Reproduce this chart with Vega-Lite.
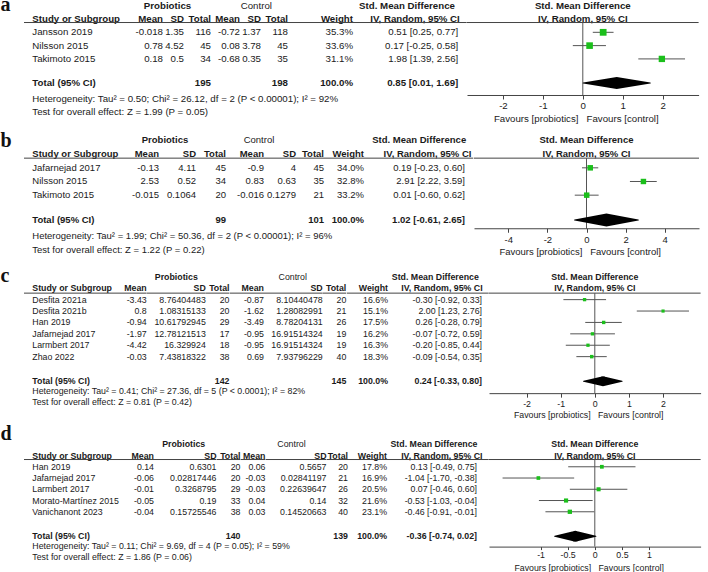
{
"$schema":"https://vega.github.io/schema/vega-lite/v6.json",
"padding":0,
"background":"white",
"datasets":{
"one":[{}],
"a_st":[
{"study":"Jansson 2019","pMean":-0.018,"pSD":1.35,"pN":116,"cMean":-0.72,"cSD":1.37,"cN":118,"w":0.353,"est":0.51,"lo":0.25,"hi":0.77,"ci":"0.51 [0.25, 0.77]"},
{"study":"Nilsson 2015","pMean":0.78,"pSD":4.52,"pN":45,"cMean":0.08,"cSD":3.78,"cN":45,"w":0.336,"est":0.17,"lo":-0.25,"hi":0.58,"ci":"0.17 [-0.25, 0.58]"},
{"study":"Takimoto 2015","pMean":0.18,"pSD":0.5,"pN":34,"cMean":-0.68,"cSD":0.35,"cN":35,"w":0.311,"est":1.98,"lo":1.39,"hi":2.56,"ci":"1.98 [1.39, 2.56]"}],
"a_tot":[{"study":"Total (95% CI)","pN":195,"cN":198,"w":1,"est":0.85,"lo":0.01,"hi":1.69,"ci":"0.85 [0.01, 1.69]","het":"Heterogeneity: Tau² = 0.50; Chi² = 26.12, df = 2 (P < 0.00001); I² = 92%","z":"Test for overall effect: Z = 1.99 (P = 0.05)"}],
"b_st":[
{"study":"Jafarnejad 2017","pMean":-0.13,"pSD":4.11,"pN":45,"cMean":-0.9,"cSD":4,"cN":45,"w":0.34,"est":0.19,"lo":-0.23,"hi":0.6,"ci":"0.19 [-0.23, 0.60]"},
{"study":"Nilsson 2015","pMean":2.53,"pSD":0.52,"pN":34,"cMean":0.83,"cSD":0.63,"cN":35,"w":0.328,"est":2.91,"lo":2.22,"hi":3.59,"ci":"2.91 [2.22, 3.59]"},
{"study":"Takimoto 2015","pMean":-0.015,"pSD":0.1064,"pN":20,"cMean":-0.016,"cSD":0.1279,"cN":21,"w":0.332,"est":0.01,"lo":-0.6,"hi":0.62,"ci":"0.01 [-0.60, 0.62]"}],
"b_tot":[{"study":"Total (95% CI)","pN":99,"cN":101,"w":1,"est":1.02,"lo":-0.61,"hi":2.65,"ci":"1.02 [-0.61, 2.65]","het":"Heterogeneity: Tau² = 1.99; Chi² = 50.36, df = 2 (P < 0.00001); I² = 96%","z":"Test for overall effect: Z = 1.22 (P = 0.22)"}],
"c_st":[
{"study":"Desfita 2021a","pMean":-3.43,"pSD":8.76404483,"pN":20,"cMean":-0.87,"cSD":8.10440478,"cN":20,"w":0.166,"est":-0.3,"lo":-0.92,"hi":0.33,"ci":"-0.30 [-0.92, 0.33]"},
{"study":"Desfita 2021b","pMean":0.8,"pSD":1.08315133,"pN":20,"cMean":-1.62,"cSD":1.28082991,"cN":21,"w":0.151,"est":2.0,"lo":1.23,"hi":2.76,"ci":"2.00 [1.23, 2.76]"},
{"study":"Han 2019","pMean":-0.94,"pSD":10.61792945,"pN":29,"cMean":-3.49,"cSD":8.78204131,"cN":26,"w":0.175,"est":0.26,"lo":-0.28,"hi":0.79,"ci":"0.26 [-0.28, 0.79]"},
{"study":"Jafarnejad 2017","pMean":-1.97,"pSD":12.78121513,"pN":17,"cMean":-0.95,"cSD":16.91514324,"cN":19,"w":0.162,"est":-0.07,"lo":-0.72,"hi":0.59,"ci":"-0.07 [-0.72, 0.59]"},
{"study":"Larmbert 2017","pMean":-4.42,"pSD":16.329924,"pN":18,"cMean":-0.95,"cSD":16.91514324,"cN":19,"w":0.163,"est":-0.2,"lo":-0.85,"hi":0.44,"ci":"-0.20 [-0.85, 0.44]"},
{"study":"Zhao 2022","pMean":-0.03,"pSD":7.43818322,"pN":38,"cMean":0.69,"cSD":7.93796229,"cN":40,"w":0.183,"est":-0.09,"lo":-0.54,"hi":0.35,"ci":"-0.09 [-0.54, 0.35]"}],
"c_tot":[{"study":"Total (95% CI)","pN":142,"cN":145,"w":1,"est":0.24,"lo":-0.33,"hi":0.8,"ci":"0.24 [-0.33, 0.80]","het":"Heterogeneity: Tau² = 0.41; Chi² = 27.36, df = 5 (P < 0.0001); I² = 82%","z":"Test for overall effect: Z = 0.81 (P = 0.42)"}],
"d_st":[
{"study":"Han 2019","pMean":0.14,"pSD":0.6301,"pN":20,"cMean":0.06,"cSD":0.5657,"cN":20,"w":0.178,"est":0.13,"lo":-0.49,"hi":0.75,"ci":"0.13 [-0.49, 0.75]"},
{"study":"Jafarnejad 2017","pMean":-0.06,"pSD":0.02817446,"pN":20,"cMean":-0.03,"cSD":0.02841197,"cN":21,"w":0.169,"est":-1.04,"lo":-1.7,"hi":-0.38,"ci":"-1.04 [-1.70, -0.38]"},
{"study":"Larmbert 2017","pMean":-0.01,"pSD":0.3268795,"pN":29,"cMean":-0.03,"cSD":0.22639647,"cN":26,"w":0.205,"est":0.07,"lo":-0.46,"hi":0.6,"ci":"0.07 [-0.46, 0.60]"},
{"study":"Morato-Martínez 2015","pMean":-0.05,"pSD":0.19,"pN":33,"cMean":0.04,"cSD":0.14,"cN":32,"w":0.216,"est":-0.53,"lo":-1.03,"hi":-0.04,"ci":"-0.53 [-1.03, -0.04]"},
{"study":"Vanichanont 2023","pMean":-0.04,"pSD":0.15725546,"pN":38,"cMean":0.03,"cSD":0.14520663,"cN":40,"w":0.231,"est":-0.46,"lo":-0.91,"hi":-0.01,"ci":"-0.46 [-0.91, -0.01]"}],
"d_tot":[{"study":"Total (95% CI)","pN":140,"cN":139,"w":1,"est":-0.36,"lo":-0.74,"hi":0.02,"ci":"-0.36 [-0.74, 0.02]","het":"Heterogeneity: Tau² = 0.11; Chi² = 9.69, df = 4 (P = 0.05); I² = 59%","z":"Test for overall effect: Z = 1.86 (P = 0.06)"}]
},
"spacing":2.8,
"resolve":{"scale":{"size":"independent"}},
"vconcat":[
{"hconcat":[
{"width":24,"height":{"step":13.3},"data":{"name":"one"},"mark":{"type":"text","align":"left","dx":-11.5,"dy":4.8,"style":"letter","clip":true},"encoding":{"y":{"datum":"top","type":"nominal","axis":null,"scale":{"type":"point","padding":0.43,"domain":["top","head","Jansson 2019","Nilsson 2015","Takimoto 2015","gap","Total (95% CI)","het","z"]}},"text":{"value":"a"}}},
{"width":100,"height":{"step":13.3},"layer":[
{"data":{"name":"one"},"mark":{"type":"text","align":"left","dx":8.3,"style":["fa","bold"]},"encoding":{"x":{"value":0},"y":{"datum":"head","type":"nominal","axis":null,"scale":{"type":"point","padding":0.43,"domain":["top","head","Jansson 2019","Nilsson 2015","Takimoto 2015","gap","Total (95% CI)","het","z"]}},"text":{"value":"Study or Subgroup"}}},
{"data":{"name":"one"},"mark":{"type":"rule","yOffset":3.5,"style":"hl"},"encoding":{"y":{"datum":"head","type":"nominal","axis":null}}},
{"data":{"name":"a_st"},"mark":{"type":"text","align":"left","dx":8.3,"style":"fa"},"encoding":{"x":{"value":0},"y":{"field":"study","type":"nominal","axis":null},"text":{"field":"study","type":"nominal"}}},
{"data":{"name":"a_tot"},"mark":{"type":"text","align":"left","dx":8.3,"dy":-2.5,"style":["fa","bold"]},"encoding":{"x":{"value":0},"y":{"field":"study","type":"nominal","axis":null},"text":{"field":"study","type":"nominal"}}},
{"data":{"name":"a_tot"},"mark":{"type":"text","align":"left","dx":8.3,"style":"fa"},"encoding":{"x":{"value":0},"y":{"datum":"het","type":"nominal","axis":null},"text":{"field":"het","type":"nominal"}}},
{"data":{"name":"a_tot"},"mark":{"type":"text","align":"left","dx":8.3,"style":"fa"},"encoding":{"x":{"value":0},"y":{"datum":"z","type":"nominal","axis":null},"text":{"field":"z","type":"nominal"}}}]},
{"width":39,"height":{"step":13.3},"layer":[
{"data":{"name":"one"},"mark":{"type":"text","align":"right","style":["fa","bold"]},"encoding":{"x":{"value":"width"},"y":{"datum":"head","type":"nominal","axis":null,"scale":{"type":"point","padding":0.43,"domain":["top","head","Jansson 2019","Nilsson 2015","Takimoto 2015","gap","Total (95% CI)","het","z"]}},"text":{"value":"Mean"}}},
{"data":{"name":"one"},"mark":{"type":"rule","yOffset":3.5,"style":"hl"},"encoding":{"y":{"datum":"head","type":"nominal","axis":null}}},
{"data":{"name":"a_st"},"mark":{"type":"text","align":"right","style":"fa"},"encoding":{"x":{"value":"width"},"y":{"field":"study","type":"nominal","axis":null},"text":{"field":"pMean","type":"nominal"}}}]},
{"width":21,"height":{"step":13.3},"layer":[
{"data":{"name":"one"},"mark":{"type":"text","align":"right","style":["fa","bold"]},"encoding":{"x":{"value":"width"},"y":{"datum":"head","type":"nominal","axis":null,"scale":{"type":"point","padding":0.43,"domain":["top","head","Jansson 2019","Nilsson 2015","Takimoto 2015","gap","Total (95% CI)","het","z"]}},"text":{"value":"SD"}}},
{"data":{"name":"one"},"mark":{"type":"text","align":"center","dx":-16.5,"style":["fa","bold"]},"encoding":{"x":{"value":"width"},"y":{"datum":"top","type":"nominal","axis":null},"text":{"value":"Probiotics"}}},
{"data":{"name":"one"},"mark":{"type":"rule","yOffset":3.5,"style":"hl"},"encoding":{"y":{"datum":"head","type":"nominal","axis":null}}},
{"data":{"name":"a_st"},"mark":{"type":"text","align":"right","style":"fa"},"encoding":{"x":{"value":"width"},"y":{"field":"study","type":"nominal","axis":null},"text":{"field":"pSD","type":"nominal"}}}]},
{"width":27,"height":{"step":13.3},"layer":[
{"data":{"name":"one"},"mark":{"type":"text","align":"right","style":["fa","bold"]},"encoding":{"x":{"value":"width"},"y":{"datum":"head","type":"nominal","axis":null,"scale":{"type":"point","padding":0.43,"domain":["top","head","Jansson 2019","Nilsson 2015","Takimoto 2015","gap","Total (95% CI)","het","z"]}},"text":{"value":"Total"}}},
{"data":{"name":"one"},"mark":{"type":"rule","yOffset":3.5,"style":"hl"},"encoding":{"y":{"datum":"head","type":"nominal","axis":null}}},
{"data":{"name":"a_st"},"mark":{"type":"text","align":"right","style":"fa"},"encoding":{"x":{"value":"width"},"y":{"field":"study","type":"nominal","axis":null},"text":{"field":"pN","type":"nominal"}}},
{"data":{"name":"a_tot"},"mark":{"type":"text","align":"right","dy":-2.5,"style":["fa","bold"]},"encoding":{"x":{"value":"width"},"y":{"field":"study","type":"nominal","axis":null},"text":{"field":"pN","type":"nominal"}}}]},
{"width":29,"height":{"step":13.3},"layer":[
{"data":{"name":"one"},"mark":{"type":"text","align":"right","style":["fa","bold"]},"encoding":{"x":{"value":"width"},"y":{"datum":"head","type":"nominal","axis":null,"scale":{"type":"point","padding":0.43,"domain":["top","head","Jansson 2019","Nilsson 2015","Takimoto 2015","gap","Total (95% CI)","het","z"]}},"text":{"value":"Mean"}}},
{"data":{"name":"one"},"mark":{"type":"rule","yOffset":3.5,"style":"hl"},"encoding":{"y":{"datum":"head","type":"nominal","axis":null}}},
{"data":{"name":"a_st"},"mark":{"type":"text","align":"right","style":"fa"},"encoding":{"x":{"value":"width"},"y":{"field":"study","type":"nominal","axis":null},"text":{"field":"cMean","type":"nominal"}}}]},
{"width":21,"height":{"step":13.3},"layer":[
{"data":{"name":"one"},"mark":{"type":"text","align":"right","style":["fa","bold"]},"encoding":{"x":{"value":"width"},"y":{"datum":"head","type":"nominal","axis":null,"scale":{"type":"point","padding":0.43,"domain":["top","head","Jansson 2019","Nilsson 2015","Takimoto 2015","gap","Total (95% CI)","het","z"]}},"text":{"value":"SD"}}},
{"data":{"name":"one"},"mark":{"type":"text","align":"center","dx":-4.7,"style":"fa"},"encoding":{"x":{"value":"width"},"y":{"datum":"top","type":"nominal","axis":null},"text":{"value":"Control"}}},
{"data":{"name":"one"},"mark":{"type":"rule","yOffset":3.5,"style":"hl"},"encoding":{"y":{"datum":"head","type":"nominal","axis":null}}},
{"data":{"name":"a_st"},"mark":{"type":"text","align":"right","style":"fa"},"encoding":{"x":{"value":"width"},"y":{"field":"study","type":"nominal","axis":null},"text":{"field":"cSD","type":"nominal"}}}]},
{"width":27,"height":{"step":13.3},"layer":[
{"data":{"name":"one"},"mark":{"type":"text","align":"right","style":["fa","bold"]},"encoding":{"x":{"value":"width"},"y":{"datum":"head","type":"nominal","axis":null,"scale":{"type":"point","padding":0.43,"domain":["top","head","Jansson 2019","Nilsson 2015","Takimoto 2015","gap","Total (95% CI)","het","z"]}},"text":{"value":"Total"}}},
{"data":{"name":"one"},"mark":{"type":"rule","yOffset":3.5,"style":"hl"},"encoding":{"y":{"datum":"head","type":"nominal","axis":null}}},
{"data":{"name":"a_st"},"mark":{"type":"text","align":"right","style":"fa"},"encoding":{"x":{"value":"width"},"y":{"field":"study","type":"nominal","axis":null},"text":{"field":"cN","type":"nominal"}}},
{"data":{"name":"a_tot"},"mark":{"type":"text","align":"right","dy":-2.5,"style":["fa","bold"]},"encoding":{"x":{"value":"width"},"y":{"field":"study","type":"nominal","axis":null},"text":{"field":"cN","type":"nominal"}}}]},
{"width":65,"height":{"step":13.3},"layer":[
{"data":{"name":"one"},"mark":{"type":"text","align":"right","style":["fa","bold"]},"encoding":{"x":{"value":"width"},"y":{"datum":"head","type":"nominal","axis":null,"scale":{"type":"point","padding":0.43,"domain":["top","head","Jansson 2019","Nilsson 2015","Takimoto 2015","gap","Total (95% CI)","het","z"]}},"text":{"value":"Weight"}}},
{"data":{"name":"one"},"mark":{"type":"rule","yOffset":3.5,"style":"hl"},"encoding":{"y":{"datum":"head","type":"nominal","axis":null}}},
{"data":{"name":"a_st"},"mark":{"type":"text","align":"right","style":"fa"},"encoding":{"x":{"value":"width"},"y":{"field":"study","type":"nominal","axis":null},"text":{"field":"w","type":"quantitative","format":".1%"}}},
{"data":{"name":"a_tot"},"mark":{"type":"text","align":"right","dy":-2.5,"style":["fa","bold"]},"encoding":{"x":{"value":"width"},"y":{"field":"study","type":"nominal","axis":null},"text":{"field":"w","type":"quantitative","format":".1%"}}}]},
{"width":113.7,"height":{"step":13.3},"layer":[
{"data":{"name":"one"},"mark":{"type":"text","align":"center","dx":-59.7,"style":["fa","bold"]},"encoding":{"x":{"value":"width"},"y":{"datum":"top","type":"nominal","axis":null,"scale":{"type":"point","padding":0.43,"domain":["top","head","Jansson 2019","Nilsson 2015","Takimoto 2015","gap","Total (95% CI)","het","z"]}},"text":{"value":"Std. Mean Difference"}}},
{"data":{"name":"one"},"mark":{"type":"text","align":"center","dx":-51.7,"style":["fa","bold"]},"encoding":{"x":{"value":"width"},"y":{"datum":"head","type":"nominal","axis":null},"text":{"value":"IV, Random, 95% CI"}}},
{"data":{"name":"one"},"mark":{"type":"rule","yOffset":3.5,"style":"hl"},"encoding":{"y":{"datum":"head","type":"nominal","axis":null}}},
{"data":{"name":"a_st"},"mark":{"type":"text","align":"right","dx":-8.4,"style":"fa"},"encoding":{"x":{"value":"width"},"y":{"field":"study","type":"nominal","axis":null},"text":{"field":"ci","type":"nominal"}}},
{"data":{"name":"a_tot"},"mark":{"type":"text","align":"right","dx":-8.4,"dy":-2.5,"style":["fa","bold"]},"encoding":{"x":{"value":"width"},"y":{"field":"study","type":"nominal","axis":null},"text":{"field":"ci","type":"nominal"}}}]},
{"width":231.6,"height":{"step":13.3},"layer":[
{"data":{"name":"one"},"mark":{"type":"text","style":["fa","bold"]},"encoding":{"y":{"datum":"top","type":"nominal","axis":null,"scale":{"type":"point","padding":0.43,"domain":["top","head","Jansson 2019","Nilsson 2015","Takimoto 2015","gap","Total (95% CI)","het","z"]}},"text":{"value":"Std. Mean Difference"}}},
{"data":{"name":"one"},"mark":{"type":"text","style":["fa","bold"]},"encoding":{"y":{"datum":"head","type":"nominal","axis":null},"text":{"value":"IV, Random, 95% CI"}}},
{"data":{"name":"one"},"mark":{"type":"rule","yOffset":3.5,"style":"hl"},"encoding":{"y":{"datum":"head","type":"nominal","axis":null}}},
{"data":{"name":"one"},"mark":{"type":"rule","yOffset":3.5,"y2Offset":9.5,"color":"#555"},"encoding":{"x":{"datum":0,"type":"quantitative","scale":{"domain":[-2.9,2.9],"nice":false,"zero":false},"axis":{"values":[-2,-1,0,1,2],"offset":-22.84,"titleX":108.8,"labelFontSize":9.7,"titleFontSize":9.7,"title":"Favours [probiotics]\u00a0\u00a0\u00a0Favours [control]"}},"y":{"datum":"head","type":"nominal","axis":null},"y2":{"datum":"Total (95% CI)"}}},
{"data":{"name":"a_st"},"mark":{"type":"rule","color":"#555"},"encoding":{"x":{"field":"lo","type":"quantitative"},"x2":{"field":"hi"},"y":{"field":"study","type":"nominal","axis":null}}},
{"data":{"name":"a_st"},"mark":{"type":"point","shape":"square","filled":true,"opacity":1,"color":"#1bbf1b"},"encoding":{"x":{"field":"est","type":"quantitative"},"y":{"field":"study","type":"nominal","axis":null},"size":{"field":"w","type":"quantitative","scale":{"domain":[0,1],"range":[0,130]},"legend":null}}},
{"data":{"name":"a_tot"},"transform":[{"fold":["lo","est","hi"],"as":["bound","v"]}],"mark":{"type":"trail","color":"#000","yOffset":-2.5},"encoding":{"x":{"field":"v","type":"quantitative"},"y":{"field":"study","type":"nominal","axis":null},"order":{"field":"v","type":"quantitative"},"size":{"condition":{"test":"datum.bound == 'est'","value":12},"value":0}}}]}
],"spacing":0,"bounds":"flush","resolve":{"scale":{"size":"independent"}}},
{"hconcat":[
{"width":24,"height":{"step":13.3},"data":{"name":"one"},"mark":{"type":"text","align":"left","dx":-11.5,"dy":6.9,"style":"letter"},"encoding":{"y":{"datum":"top","type":"nominal","axis":null,"scale":{"type":"point","padding":1.14,"domain":["top","head","Jafarnejad 2017","Nilsson 2015","Takimoto 2015","gap","Total (95% CI)","het","z"]}},"text":{"value":"b"}}},
{"width":96,"height":{"step":13.3},"layer":[
{"data":{"name":"one"},"mark":{"type":"text","align":"left","dx":8.3,"style":["fb","bold"]},"encoding":{"x":{"value":0},"y":{"datum":"head","type":"nominal","axis":null,"scale":{"type":"point","padding":1.14,"domain":["top","head","Jafarnejad 2017","Nilsson 2015","Takimoto 2015","gap","Total (95% CI)","het","z"]}},"text":{"value":"Study or Subgroup"}}},
{"data":{"name":"one"},"mark":{"type":"rule","yOffset":4,"style":"hl"},"encoding":{"y":{"datum":"head","type":"nominal","axis":null}}},
{"data":{"name":"b_st"},"mark":{"type":"text","align":"left","dx":8.3,"style":"fb"},"encoding":{"x":{"value":0},"y":{"field":"study","type":"nominal","axis":null},"text":{"field":"study","type":"nominal"}}},
{"data":{"name":"b_tot"},"mark":{"type":"text","align":"left","dx":8.3,"dy":-2.5,"style":["fb","bold"]},"encoding":{"x":{"value":0},"y":{"field":"study","type":"nominal","axis":null},"text":{"field":"study","type":"nominal"}}},
{"data":{"name":"b_tot"},"mark":{"type":"text","align":"left","dx":8.3,"style":"fb"},"encoding":{"x":{"value":0},"y":{"datum":"het","type":"nominal","axis":null},"text":{"field":"het","type":"nominal"}}},
{"data":{"name":"b_tot"},"mark":{"type":"text","align":"left","dx":8.3,"style":"fb"},"encoding":{"x":{"value":0},"y":{"datum":"z","type":"nominal","axis":null},"text":{"field":"z","type":"nominal"}}}]},
{"width":39,"height":{"step":13.3},"layer":[
{"data":{"name":"one"},"mark":{"type":"text","align":"right","style":["fb","bold"]},"encoding":{"x":{"value":"width"},"y":{"datum":"head","type":"nominal","axis":null,"scale":{"type":"point","padding":1.14,"domain":["top","head","Jafarnejad 2017","Nilsson 2015","Takimoto 2015","gap","Total (95% CI)","het","z"]}},"text":{"value":"Mean"}}},
{"data":{"name":"one"},"mark":{"type":"rule","yOffset":4,"style":"hl"},"encoding":{"y":{"datum":"head","type":"nominal","axis":null}}},
{"data":{"name":"b_st"},"mark":{"type":"text","align":"right","style":"fb"},"encoding":{"x":{"value":"width"},"y":{"field":"study","type":"nominal","axis":null},"text":{"field":"pMean","type":"nominal"}}}]},
{"width":37,"height":{"step":13.3},"layer":[
{"data":{"name":"one"},"mark":{"type":"text","align":"right","style":["fb","bold"]},"encoding":{"x":{"value":"width"},"y":{"datum":"head","type":"nominal","axis":null,"scale":{"type":"point","padding":1.14,"domain":["top","head","Jafarnejad 2017","Nilsson 2015","Takimoto 2015","gap","Total (95% CI)","het","z"]}},"text":{"value":"SD"}}},
{"data":{"name":"one"},"mark":{"type":"text","align":"center","dx":-31,"style":["fb","bold"]},"encoding":{"x":{"value":"width"},"y":{"datum":"top","type":"nominal","axis":null},"text":{"value":"Probiotics"}}},
{"data":{"name":"one"},"mark":{"type":"rule","yOffset":4,"style":"hl"},"encoding":{"y":{"datum":"head","type":"nominal","axis":null}}},
{"data":{"name":"b_st"},"mark":{"type":"text","align":"right","style":"fb"},"encoding":{"x":{"value":"width"},"y":{"field":"study","type":"nominal","axis":null},"text":{"field":"pSD","type":"nominal"}}}]},
{"width":30,"height":{"step":13.3},"layer":[
{"data":{"name":"one"},"mark":{"type":"text","align":"right","style":["fb","bold"]},"encoding":{"x":{"value":"width"},"y":{"datum":"head","type":"nominal","axis":null,"scale":{"type":"point","padding":1.14,"domain":["top","head","Jafarnejad 2017","Nilsson 2015","Takimoto 2015","gap","Total (95% CI)","het","z"]}},"text":{"value":"Total"}}},
{"data":{"name":"one"},"mark":{"type":"rule","yOffset":4,"style":"hl"},"encoding":{"y":{"datum":"head","type":"nominal","axis":null}}},
{"data":{"name":"b_st"},"mark":{"type":"text","align":"right","style":"fb"},"encoding":{"x":{"value":"width"},"y":{"field":"study","type":"nominal","axis":null},"text":{"field":"pN","type":"nominal"}}},
{"data":{"name":"b_tot"},"mark":{"type":"text","align":"right","dy":-2.5,"style":["fb","bold"]},"encoding":{"x":{"value":"width"},"y":{"field":"study","type":"nominal","axis":null},"text":{"field":"pN","type":"nominal"}}}]},
{"width":38,"height":{"step":13.3},"layer":[
{"data":{"name":"one"},"mark":{"type":"text","align":"right","style":["fb","bold"]},"encoding":{"x":{"value":"width"},"y":{"datum":"head","type":"nominal","axis":null,"scale":{"type":"point","padding":1.14,"domain":["top","head","Jafarnejad 2017","Nilsson 2015","Takimoto 2015","gap","Total (95% CI)","het","z"]}},"text":{"value":"Mean"}}},
{"data":{"name":"one"},"mark":{"type":"rule","yOffset":4,"style":"hl"},"encoding":{"y":{"datum":"head","type":"nominal","axis":null}}},
{"data":{"name":"b_st"},"mark":{"type":"text","align":"right","style":"fb"},"encoding":{"x":{"value":"width"},"y":{"field":"study","type":"nominal","axis":null},"text":{"field":"cMean","type":"nominal"}}}]},
{"width":32,"height":{"step":13.3},"layer":[
{"data":{"name":"one"},"mark":{"type":"text","align":"right","style":["fb","bold"]},"encoding":{"x":{"value":"width"},"y":{"datum":"head","type":"nominal","axis":null,"scale":{"type":"point","padding":1.14,"domain":["top","head","Jafarnejad 2017","Nilsson 2015","Takimoto 2015","gap","Total (95% CI)","het","z"]}},"text":{"value":"SD"}}},
{"data":{"name":"one"},"mark":{"type":"text","align":"center","dx":-37,"style":"fb"},"encoding":{"x":{"value":"width"},"y":{"datum":"top","type":"nominal","axis":null},"text":{"value":"Control"}}},
{"data":{"name":"one"},"mark":{"type":"rule","yOffset":4,"style":"hl"},"encoding":{"y":{"datum":"head","type":"nominal","axis":null}}},
{"data":{"name":"b_st"},"mark":{"type":"text","align":"right","style":"fb"},"encoding":{"x":{"value":"width"},"y":{"field":"study","type":"nominal","axis":null},"text":{"field":"cSD","type":"nominal"}}}]},
{"width":28,"height":{"step":13.3},"layer":[
{"data":{"name":"one"},"mark":{"type":"text","align":"right","style":["fb","bold"]},"encoding":{"x":{"value":"width"},"y":{"datum":"head","type":"nominal","axis":null,"scale":{"type":"point","padding":1.14,"domain":["top","head","Jafarnejad 2017","Nilsson 2015","Takimoto 2015","gap","Total (95% CI)","het","z"]}},"text":{"value":"Total"}}},
{"data":{"name":"one"},"mark":{"type":"rule","yOffset":4,"style":"hl"},"encoding":{"y":{"datum":"head","type":"nominal","axis":null}}},
{"data":{"name":"b_st"},"mark":{"type":"text","align":"right","style":"fb"},"encoding":{"x":{"value":"width"},"y":{"field":"study","type":"nominal","axis":null},"text":{"field":"cN","type":"nominal"}}},
{"data":{"name":"b_tot"},"mark":{"type":"text","align":"right","dy":-2.5,"style":["fb","bold"]},"encoding":{"x":{"value":"width"},"y":{"field":"study","type":"nominal","axis":null},"text":{"field":"cN","type":"nominal"}}}]},
{"width":40,"height":{"step":13.3},"layer":[
{"data":{"name":"one"},"mark":{"type":"text","align":"right","style":["fb","bold"]},"encoding":{"x":{"value":"width"},"y":{"datum":"head","type":"nominal","axis":null,"scale":{"type":"point","padding":1.14,"domain":["top","head","Jafarnejad 2017","Nilsson 2015","Takimoto 2015","gap","Total (95% CI)","het","z"]}},"text":{"value":"Weight"}}},
{"data":{"name":"one"},"mark":{"type":"rule","yOffset":4,"style":"hl"},"encoding":{"y":{"datum":"head","type":"nominal","axis":null}}},
{"data":{"name":"b_st"},"mark":{"type":"text","align":"right","style":"fb"},"encoding":{"x":{"value":"width"},"y":{"field":"study","type":"nominal","axis":null},"text":{"field":"w","type":"quantitative","format":".1%"}}},
{"data":{"name":"b_tot"},"mark":{"type":"text","align":"right","dy":-2.5,"style":["fb","bold"]},"encoding":{"x":{"value":"width"},"y":{"field":"study","type":"nominal","axis":null},"text":{"field":"w","type":"quantitative","format":".1%"}}}]},
{"width":109.3,"height":{"step":13.3},"layer":[
{"data":{"name":"one"},"mark":{"type":"text","align":"center","dx":-54.1,"style":["fb","bold"]},"encoding":{"x":{"value":"width"},"y":{"datum":"top","type":"nominal","axis":null,"scale":{"type":"point","padding":1.14,"domain":["top","head","Jafarnejad 2017","Nilsson 2015","Takimoto 2015","gap","Total (95% CI)","het","z"]}},"text":{"value":"Std. Mean Difference"}}},
{"data":{"name":"one"},"mark":{"type":"text","align":"center","dx":-45.8,"style":["fb","bold"]},"encoding":{"x":{"value":"width"},"y":{"datum":"head","type":"nominal","axis":null},"text":{"value":"IV, Random, 95% CI"}}},
{"data":{"name":"one"},"mark":{"type":"rule","yOffset":4,"style":"hl"},"encoding":{"y":{"datum":"head","type":"nominal","axis":null}}},
{"data":{"name":"b_st"},"mark":{"type":"text","align":"right","dx":-8.3,"style":"fb"},"encoding":{"x":{"value":"width"},"y":{"field":"study","type":"nominal","axis":null},"text":{"field":"ci","type":"nominal"}}},
{"data":{"name":"b_tot"},"mark":{"type":"text","align":"right","dx":-8.3,"dy":-2.5,"style":["fb","bold"]},"encoding":{"x":{"value":"width"},"y":{"field":"study","type":"nominal","axis":null},"text":{"field":"ci","type":"nominal"}}}]},
{"width":225,"height":{"step":13.3},"layer":[
{"data":{"name":"one"},"mark":{"type":"text","style":["fb","bold"]},"encoding":{"y":{"datum":"top","type":"nominal","axis":null,"scale":{"type":"point","padding":1.14,"domain":["top","head","Jafarnejad 2017","Nilsson 2015","Takimoto 2015","gap","Total (95% CI)","het","z"]}},"text":{"value":"Std. Mean Difference"}}},
{"data":{"name":"one"},"mark":{"type":"text","style":["fb","bold"]},"encoding":{"y":{"datum":"head","type":"nominal","axis":null},"text":{"value":"IV, Random, 95% CI"}}},
{"data":{"name":"one"},"mark":{"type":"rule","yOffset":4,"style":"hl"},"encoding":{"y":{"datum":"head","type":"nominal","axis":null}}},
{"data":{"name":"one"},"mark":{"type":"rule","yOffset":4,"y2Offset":6.5,"color":"#555"},"encoding":{"x":{"datum":0,"type":"quantitative","scale":{"domain":[-5.75,5.75],"nice":false,"zero":false},"axis":{"values":[-4,-2,0,2,4],"offset":-35.26,"titleX":105.7,"labelFontSize":9.5,"titleFontSize":9.5,"title":"Favours [probiotics]\u00a0\u00a0\u00a0Favours [control]"}},"y":{"datum":"head","type":"nominal","axis":null},"y2":{"datum":"Total (95% CI)"}}},
{"data":{"name":"b_st"},"mark":{"type":"rule","color":"#555"},"encoding":{"x":{"field":"lo","type":"quantitative"},"x2":{"field":"hi"},"y":{"field":"study","type":"nominal","axis":null}}},
{"data":{"name":"b_st"},"mark":{"type":"point","shape":"square","filled":true,"opacity":1,"color":"#1bbf1b"},"encoding":{"x":{"field":"est","type":"quantitative"},"y":{"field":"study","type":"nominal","axis":null},"size":{"field":"w","type":"quantitative","scale":{"domain":[0,1],"range":[0,90]},"legend":null}}},
{"data":{"name":"b_tot"},"transform":[{"fold":["lo","est","hi"],"as":["bound","v"]}],"mark":{"type":"trail","color":"#000","yOffset":-2.5},"encoding":{"x":{"field":"v","type":"quantitative"},"y":{"field":"study","type":"nominal","axis":null},"order":{"field":"v","type":"quantitative"},"size":{"condition":{"test":"datum.bound == 'est'","value":13},"value":0}}}]}
],"spacing":0,"bounds":"flush","resolve":{"scale":{"size":"independent"}}},
{"hconcat":[
{"width":24,"height":{"step":11.4},"data":{"name":"one"},"mark":{"type":"text","align":"left","dx":-11.5,"dy":4.7,"style":"letter","clip":true},"encoding":{"y":{"datum":"top","type":"nominal","axis":null,"scale":{"type":"point","padding":0.898,"domain":["top","head","Desfita 2021a","Desfita 2021b","Han 2019","Jafarnejad 2017","Larmbert 2017","Zhao 2022","gap","Total (95% CI)","het","z"]}},"text":{"value":"c"}}},
{"width":86,"height":{"step":11.4},"layer":[
{"data":{"name":"one"},"mark":{"type":"text","align":"left","dx":8.3,"style":["fc","bold"]},"encoding":{"x":{"value":0},"y":{"datum":"head","type":"nominal","axis":null,"scale":{"type":"point","padding":0.898,"domain":["top","head","Desfita 2021a","Desfita 2021b","Han 2019","Jafarnejad 2017","Larmbert 2017","Zhao 2022","gap","Total (95% CI)","het","z"]}},"text":{"value":"Study or Subgroup"}}},
{"data":{"name":"one"},"mark":{"type":"rule","yOffset":4.9,"style":"hl"},"encoding":{"y":{"datum":"head","type":"nominal","axis":null}}},
{"data":{"name":"c_st"},"mark":{"type":"text","align":"left","dx":8.3,"style":"fc"},"encoding":{"x":{"value":0},"y":{"field":"study","type":"nominal","axis":null},"text":{"field":"study","type":"nominal"}}},
{"data":{"name":"c_tot"},"mark":{"type":"text","align":"left","dx":8.3,"dy":1.8,"style":["fc","bold"]},"encoding":{"x":{"value":0},"y":{"field":"study","type":"nominal","axis":null},"text":{"field":"study","type":"nominal"}}},
{"data":{"name":"c_tot"},"mark":{"type":"text","align":"left","dx":8.3,"style":"fc"},"encoding":{"x":{"value":0},"y":{"datum":"het","type":"nominal","axis":null},"text":{"field":"het","type":"nominal"}}},
{"data":{"name":"c_tot"},"mark":{"type":"text","align":"left","dx":8.3,"style":"fc"},"encoding":{"x":{"value":0},"y":{"datum":"z","type":"nominal","axis":null},"text":{"field":"z","type":"nominal"}}}]},
{"width":36.7,"height":{"step":11.4},"layer":[
{"data":{"name":"one"},"mark":{"type":"text","align":"right","style":["fc","bold"]},"encoding":{"x":{"value":"width"},"y":{"datum":"head","type":"nominal","axis":null,"scale":{"type":"point","padding":0.898,"domain":["top","head","Desfita 2021a","Desfita 2021b","Han 2019","Jafarnejad 2017","Larmbert 2017","Zhao 2022","gap","Total (95% CI)","het","z"]}},"text":{"value":"Mean"}}},
{"data":{"name":"one"},"mark":{"type":"rule","yOffset":4.9,"style":"hl"},"encoding":{"y":{"datum":"head","type":"nominal","axis":null}}},
{"data":{"name":"c_st"},"mark":{"type":"text","align":"right","style":"fc"},"encoding":{"x":{"value":"width"},"y":{"field":"study","type":"nominal","axis":null},"text":{"field":"pMean","type":"nominal"}}}]},
{"width":58.8,"height":{"step":11.4},"layer":[
{"data":{"name":"one"},"mark":{"type":"text","align":"right","style":["fc","bold"]},"encoding":{"x":{"value":"width"},"y":{"datum":"head","type":"nominal","axis":null,"scale":{"type":"point","padding":0.898,"domain":["top","head","Desfita 2021a","Desfita 2021b","Han 2019","Jafarnejad 2017","Larmbert 2017","Zhao 2022","gap","Total (95% CI)","het","z"]}},"text":{"value":"SD"}}},
{"data":{"name":"one"},"mark":{"type":"text","align":"center","dx":-29.5,"style":["fc","bold"]},"encoding":{"x":{"value":"width"},"y":{"datum":"top","type":"nominal","axis":null},"text":{"value":"Probiotics"}}},
{"data":{"name":"one"},"mark":{"type":"rule","yOffset":4.9,"style":"hl"},"encoding":{"y":{"datum":"head","type":"nominal","axis":null}}},
{"data":{"name":"c_st"},"mark":{"type":"text","align":"right","style":"fc"},"encoding":{"x":{"value":"width"},"y":{"field":"study","type":"nominal","axis":null},"text":{"field":"pSD","type":"nominal"}}}]},
{"width":23.5,"height":{"step":11.4},"layer":[
{"data":{"name":"one"},"mark":{"type":"text","align":"right","style":["fc","bold"]},"encoding":{"x":{"value":"width"},"y":{"datum":"head","type":"nominal","axis":null,"scale":{"type":"point","padding":0.898,"domain":["top","head","Desfita 2021a","Desfita 2021b","Han 2019","Jafarnejad 2017","Larmbert 2017","Zhao 2022","gap","Total (95% CI)","het","z"]}},"text":{"value":"Total"}}},
{"data":{"name":"one"},"mark":{"type":"rule","yOffset":4.9,"style":"hl"},"encoding":{"y":{"datum":"head","type":"nominal","axis":null}}},
{"data":{"name":"c_st"},"mark":{"type":"text","align":"right","style":"fc"},"encoding":{"x":{"value":"width"},"y":{"field":"study","type":"nominal","axis":null},"text":{"field":"pN","type":"nominal"}}},
{"data":{"name":"c_tot"},"mark":{"type":"text","align":"right","dy":1.8,"style":["fc","bold"]},"encoding":{"x":{"value":"width"},"y":{"field":"study","type":"nominal","axis":null},"text":{"field":"pN","type":"nominal"}}}]},
{"width":34,"height":{"step":11.4},"layer":[
{"data":{"name":"one"},"mark":{"type":"text","align":"right","style":["fc","bold"]},"encoding":{"x":{"value":"width"},"y":{"datum":"head","type":"nominal","axis":null,"scale":{"type":"point","padding":0.898,"domain":["top","head","Desfita 2021a","Desfita 2021b","Han 2019","Jafarnejad 2017","Larmbert 2017","Zhao 2022","gap","Total (95% CI)","het","z"]}},"text":{"value":"Mean"}}},
{"data":{"name":"one"},"mark":{"type":"rule","yOffset":4.9,"style":"hl"},"encoding":{"y":{"datum":"head","type":"nominal","axis":null}}},
{"data":{"name":"c_st"},"mark":{"type":"text","align":"right","style":"fc"},"encoding":{"x":{"value":"width"},"y":{"field":"study","type":"nominal","axis":null},"text":{"field":"cMean","type":"nominal"}}}]},
{"width":58.7,"height":{"step":11.4},"layer":[
{"data":{"name":"one"},"mark":{"type":"text","align":"right","style":["fc","bold"]},"encoding":{"x":{"value":"width"},"y":{"datum":"head","type":"nominal","axis":null,"scale":{"type":"point","padding":0.898,"domain":["top","head","Desfita 2021a","Desfita 2021b","Han 2019","Jafarnejad 2017","Larmbert 2017","Zhao 2022","gap","Total (95% CI)","het","z"]}},"text":{"value":"SD"}}},
{"data":{"name":"one"},"mark":{"type":"text","align":"center","dx":-30,"style":"fc"},"encoding":{"x":{"value":"width"},"y":{"datum":"top","type":"nominal","axis":null},"text":{"value":"Control"}}},
{"data":{"name":"one"},"mark":{"type":"rule","yOffset":4.9,"style":"hl"},"encoding":{"y":{"datum":"head","type":"nominal","axis":null}}},
{"data":{"name":"c_st"},"mark":{"type":"text","align":"right","style":"fc"},"encoding":{"x":{"value":"width"},"y":{"field":"study","type":"nominal","axis":null},"text":{"field":"cSD","type":"nominal"}}}]},
{"width":23.3,"height":{"step":11.4},"layer":[
{"data":{"name":"one"},"mark":{"type":"text","align":"right","style":["fc","bold"]},"encoding":{"x":{"value":"width"},"y":{"datum":"head","type":"nominal","axis":null,"scale":{"type":"point","padding":0.898,"domain":["top","head","Desfita 2021a","Desfita 2021b","Han 2019","Jafarnejad 2017","Larmbert 2017","Zhao 2022","gap","Total (95% CI)","het","z"]}},"text":{"value":"Total"}}},
{"data":{"name":"one"},"mark":{"type":"rule","yOffset":4.9,"style":"hl"},"encoding":{"y":{"datum":"head","type":"nominal","axis":null}}},
{"data":{"name":"c_st"},"mark":{"type":"text","align":"right","style":"fc"},"encoding":{"x":{"value":"width"},"y":{"field":"study","type":"nominal","axis":null},"text":{"field":"cN","type":"nominal"}}},
{"data":{"name":"c_tot"},"mark":{"type":"text","align":"right","dy":1.8,"style":["fc","bold"]},"encoding":{"x":{"value":"width"},"y":{"field":"study","type":"nominal","axis":null},"text":{"field":"cN","type":"nominal"}}}]},
{"width":41,"height":{"step":11.4},"layer":[
{"data":{"name":"one"},"mark":{"type":"text","align":"right","style":["fc","bold"]},"encoding":{"x":{"value":"width"},"y":{"datum":"head","type":"nominal","axis":null,"scale":{"type":"point","padding":0.898,"domain":["top","head","Desfita 2021a","Desfita 2021b","Han 2019","Jafarnejad 2017","Larmbert 2017","Zhao 2022","gap","Total (95% CI)","het","z"]}},"text":{"value":"Weight"}}},
{"data":{"name":"one"},"mark":{"type":"rule","yOffset":4.9,"style":"hl"},"encoding":{"y":{"datum":"head","type":"nominal","axis":null}}},
{"data":{"name":"c_st"},"mark":{"type":"text","align":"right","style":"fc"},"encoding":{"x":{"value":"width"},"y":{"field":"study","type":"nominal","axis":null},"text":{"field":"w","type":"quantitative","format":".1%"}}},
{"data":{"name":"c_tot"},"mark":{"type":"text","align":"right","dy":1.8,"style":["fc","bold"]},"encoding":{"x":{"value":"width"},"y":{"field":"study","type":"nominal","axis":null},"text":{"field":"w","type":"quantitative","format":".1%"}}}]},
{"width":100.7,"height":{"step":11.4},"layer":[
{"data":{"name":"one"},"mark":{"type":"text","align":"center","dx":-53.4,"style":["fc","bold"]},"encoding":{"x":{"value":"width"},"y":{"datum":"top","type":"nominal","axis":null,"scale":{"type":"point","padding":0.898,"domain":["top","head","Desfita 2021a","Desfita 2021b","Han 2019","Jafarnejad 2017","Larmbert 2017","Zhao 2022","gap","Total (95% CI)","het","z"]}},"text":{"value":"Std. Mean Difference"}}},
{"data":{"name":"one"},"mark":{"type":"text","align":"center","dx":-46.7,"style":["fc","bold"]},"encoding":{"x":{"value":"width"},"y":{"datum":"head","type":"nominal","axis":null},"text":{"value":"IV, Random, 95% CI"}}},
{"data":{"name":"one"},"mark":{"type":"rule","yOffset":4.9,"style":"hl"},"encoding":{"y":{"datum":"head","type":"nominal","axis":null}}},
{"data":{"name":"c_st"},"mark":{"type":"text","align":"right","dx":-6.7,"style":"fc"},"encoding":{"x":{"value":"width"},"y":{"field":"study","type":"nominal","axis":null},"text":{"field":"ci","type":"nominal"}}},
{"data":{"name":"c_tot"},"mark":{"type":"text","align":"right","dx":-6.7,"dy":1.8,"style":["fc","bold"]},"encoding":{"x":{"value":"width"},"y":{"field":"study","type":"nominal","axis":null},"text":{"field":"ci","type":"nominal"}}}]},
{"width":211.6,"height":{"step":11.4},"layer":[
{"data":{"name":"one"},"mark":{"type":"text","style":["fc","bold"]},"encoding":{"y":{"datum":"top","type":"nominal","axis":null,"scale":{"type":"point","padding":0.898,"domain":["top","head","Desfita 2021a","Desfita 2021b","Han 2019","Jafarnejad 2017","Larmbert 2017","Zhao 2022","gap","Total (95% CI)","het","z"]}},"text":{"value":"Std. Mean Difference"}}},
{"data":{"name":"one"},"mark":{"type":"text","style":["fc","bold"]},"encoding":{"y":{"datum":"head","type":"nominal","axis":null},"text":{"value":"IV, Random, 95% CI"}}},
{"data":{"name":"one"},"mark":{"type":"rule","yOffset":4.9,"style":"hl"},"encoding":{"y":{"datum":"head","type":"nominal","axis":null}}},
{"data":{"name":"one"},"mark":{"type":"rule","yOffset":4.9,"y2Offset":13.7,"color":"#555"},"encoding":{"x":{"datum":0,"type":"quantitative","scale":{"domain":[-3.1,3.1],"nice":false,"zero":false},"axis":{"values":[-2,-1,0,1,2],"offset":-19.33,"titleX":99.2,"labelFontSize":8.8,"titleFontSize":8.8,"title":"Favours [probiotics]\u00a0\u00a0\u00a0Favours [control]"}},"y":{"datum":"head","type":"nominal","axis":null},"y2":{"datum":"Total (95% CI)"}}},
{"data":{"name":"c_st"},"mark":{"type":"rule","color":"#555"},"encoding":{"x":{"field":"lo","type":"quantitative"},"x2":{"field":"hi"},"y":{"field":"study","type":"nominal","axis":null}}},
{"data":{"name":"c_st"},"mark":{"type":"point","shape":"square","filled":true,"opacity":1,"color":"#1bbf1b"},"encoding":{"x":{"field":"est","type":"quantitative"},"y":{"field":"study","type":"nominal","axis":null},"size":{"field":"w","type":"quantitative","scale":{"domain":[0,1],"range":[0,66]},"legend":null}}},
{"data":{"name":"c_tot"},"transform":[{"fold":["lo","est","hi"],"as":["bound","v"]}],"mark":{"type":"trail","color":"#000","yOffset":1.8},"encoding":{"x":{"field":"v","type":"quantitative"},"y":{"field":"study","type":"nominal","axis":null},"order":{"field":"v","type":"quantitative"},"size":{"condition":{"test":"datum.bound == 'est'","value":10},"value":0}}}]}
],"spacing":0,"bounds":"flush","resolve":{"scale":{"size":"independent"}}},
{"hconcat":[
{"width":24,"height":{"step":11.25},"data":{"name":"one"},"mark":{"type":"text","align":"left","dx":-11.5,"dy":-4.5,"style":"letter"},"encoding":{"y":{"datum":"top","type":"nominal","axis":null,"scale":{"type":"point","padding":0.7,"domain":["top","head","Han 2019","Jafarnejad 2017","Larmbert 2017","Morato-Martínez 2015","Vanichanont 2023","gap","Total (95% CI)","het","z"]}},"text":{"value":"d"}}},
{"width":91,"height":{"step":11.25},"layer":[
{"data":{"name":"one"},"mark":{"type":"text","align":"left","dx":8.3,"style":["fd","bold"]},"encoding":{"x":{"value":0},"y":{"datum":"head","type":"nominal","axis":null,"scale":{"type":"point","padding":0.7,"domain":["top","head","Han 2019","Jafarnejad 2017","Larmbert 2017","Morato-Martínez 2015","Vanichanont 2023","gap","Total (95% CI)","het","z"]}},"text":{"value":"Study or Subgroup"}}},
{"data":{"name":"one"},"mark":{"type":"rule","yOffset":4,"style":"hl"},"encoding":{"y":{"datum":"head","type":"nominal","axis":null}}},
{"data":{"name":"d_st"},"mark":{"type":"text","align":"left","dx":8.3,"style":"fd"},"encoding":{"x":{"value":0},"y":{"field":"study","type":"nominal","axis":null},"text":{"field":"study","type":"nominal"}}},
{"data":{"name":"d_tot"},"mark":{"type":"text","align":"left","dx":8.3,"dy":2,"style":["fd","bold"]},"encoding":{"x":{"value":0},"y":{"field":"study","type":"nominal","axis":null},"text":{"field":"study","type":"nominal"}}},
{"data":{"name":"d_tot"},"mark":{"type":"text","align":"left","dx":8.3,"style":"fd"},"encoding":{"x":{"value":0},"y":{"datum":"het","type":"nominal","axis":null},"text":{"field":"het","type":"nominal"}}},
{"data":{"name":"d_tot"},"mark":{"type":"text","align":"left","dx":8.3,"style":"fd"},"encoding":{"x":{"value":0},"y":{"datum":"z","type":"nominal","axis":null},"text":{"field":"z","type":"nominal"}}}]},
{"width":39,"height":{"step":11.25},"layer":[
{"data":{"name":"one"},"mark":{"type":"text","align":"right","style":["fd","bold"]},"encoding":{"x":{"value":"width"},"y":{"datum":"head","type":"nominal","axis":null,"scale":{"type":"point","padding":0.7,"domain":["top","head","Han 2019","Jafarnejad 2017","Larmbert 2017","Morato-Martínez 2015","Vanichanont 2023","gap","Total (95% CI)","het","z"]}},"text":{"value":"Mean"}}},
{"data":{"name":"one"},"mark":{"type":"rule","yOffset":4,"style":"hl"},"encoding":{"y":{"datum":"head","type":"nominal","axis":null}}},
{"data":{"name":"d_st"},"mark":{"type":"text","align":"right","style":"fd"},"encoding":{"x":{"value":"width"},"y":{"field":"study","type":"nominal","axis":null},"text":{"field":"pMean","type":"nominal"}}}]},
{"width":62.5,"height":{"step":11.25},"layer":[
{"data":{"name":"one"},"mark":{"type":"text","align":"right","style":["fd","bold"]},"encoding":{"x":{"value":"width"},"y":{"datum":"head","type":"nominal","axis":null,"scale":{"type":"point","padding":0.7,"domain":["top","head","Han 2019","Jafarnejad 2017","Larmbert 2017","Morato-Martínez 2015","Vanichanont 2023","gap","Total (95% CI)","het","z"]}},"text":{"value":"SD"}}},
{"data":{"name":"one"},"mark":{"type":"text","align":"center","dx":-32.8,"style":["fd","bold"]},"encoding":{"x":{"value":"width"},"y":{"datum":"top","type":"nominal","axis":null},"text":{"value":"Probiotics"}}},
{"data":{"name":"one"},"mark":{"type":"rule","yOffset":4,"style":"hl"},"encoding":{"y":{"datum":"head","type":"nominal","axis":null}}},
{"data":{"name":"d_st"},"mark":{"type":"text","align":"right","style":"fd"},"encoding":{"x":{"value":"width"},"y":{"field":"study","type":"nominal","axis":null},"text":{"field":"pSD","type":"nominal"}}}]},
{"width":23.5,"height":{"step":11.25},"layer":[
{"data":{"name":"one"},"mark":{"type":"text","align":"right","style":["fd","bold"]},"encoding":{"x":{"value":"width"},"y":{"datum":"head","type":"nominal","axis":null,"scale":{"type":"point","padding":0.7,"domain":["top","head","Han 2019","Jafarnejad 2017","Larmbert 2017","Morato-Martínez 2015","Vanichanont 2023","gap","Total (95% CI)","het","z"]}},"text":{"value":"Total"}}},
{"data":{"name":"one"},"mark":{"type":"rule","yOffset":4,"style":"hl"},"encoding":{"y":{"datum":"head","type":"nominal","axis":null}}},
{"data":{"name":"d_st"},"mark":{"type":"text","align":"right","style":"fd"},"encoding":{"x":{"value":"width"},"y":{"field":"study","type":"nominal","axis":null},"text":{"field":"pN","type":"nominal"}}},
{"data":{"name":"d_tot"},"mark":{"type":"text","align":"right","dy":2,"style":["fd","bold"]},"encoding":{"x":{"value":"width"},"y":{"field":"study","type":"nominal","axis":null},"text":{"field":"pN","type":"nominal"}}}]},
{"width":24.5,"height":{"step":11.25},"layer":[
{"data":{"name":"one"},"mark":{"type":"text","align":"right","style":["fd","bold"]},"encoding":{"x":{"value":"width"},"y":{"datum":"head","type":"nominal","axis":null,"scale":{"type":"point","padding":0.7,"domain":["top","head","Han 2019","Jafarnejad 2017","Larmbert 2017","Morato-Martínez 2015","Vanichanont 2023","gap","Total (95% CI)","het","z"]}},"text":{"value":"Mean"}}},
{"data":{"name":"one"},"mark":{"type":"rule","yOffset":4,"style":"hl"},"encoding":{"y":{"datum":"head","type":"nominal","axis":null}}},
{"data":{"name":"d_st"},"mark":{"type":"text","align":"right","style":"fd"},"encoding":{"x":{"value":"width"},"y":{"field":"study","type":"nominal","axis":null},"text":{"field":"cMean","type":"nominal"}}}]},
{"width":60.5,"height":{"step":11.25},"layer":[
{"data":{"name":"one"},"mark":{"type":"text","align":"right","style":["fd","bold"]},"encoding":{"x":{"value":"width"},"y":{"datum":"head","type":"nominal","axis":null,"scale":{"type":"point","padding":0.7,"domain":["top","head","Han 2019","Jafarnejad 2017","Larmbert 2017","Morato-Martínez 2015","Vanichanont 2023","gap","Total (95% CI)","het","z"]}},"text":{"value":"SD"}}},
{"data":{"name":"one"},"mark":{"type":"text","align":"center","dx":-35,"style":"fd"},"encoding":{"x":{"value":"width"},"y":{"datum":"top","type":"nominal","axis":null},"text":{"value":"Control"}}},
{"data":{"name":"one"},"mark":{"type":"rule","yOffset":4,"style":"hl"},"encoding":{"y":{"datum":"head","type":"nominal","axis":null}}},
{"data":{"name":"d_st"},"mark":{"type":"text","align":"right","style":"fd"},"encoding":{"x":{"value":"width"},"y":{"field":"study","type":"nominal","axis":null},"text":{"field":"cSD","type":"nominal"}}}]},
{"width":21,"height":{"step":11.25},"layer":[
{"data":{"name":"one"},"mark":{"type":"text","align":"right","style":["fd","bold"]},"encoding":{"x":{"value":"width"},"y":{"datum":"head","type":"nominal","axis":null,"scale":{"type":"point","padding":0.7,"domain":["top","head","Han 2019","Jafarnejad 2017","Larmbert 2017","Morato-Martínez 2015","Vanichanont 2023","gap","Total (95% CI)","het","z"]}},"text":{"value":"Total"}}},
{"data":{"name":"one"},"mark":{"type":"rule","yOffset":4,"style":"hl"},"encoding":{"y":{"datum":"head","type":"nominal","axis":null}}},
{"data":{"name":"d_st"},"mark":{"type":"text","align":"right","style":"fd"},"encoding":{"x":{"value":"width"},"y":{"field":"study","type":"nominal","axis":null},"text":{"field":"cN","type":"nominal"}}},
{"data":{"name":"d_tot"},"mark":{"type":"text","align":"right","dy":2,"style":["fd","bold"]},"encoding":{"x":{"value":"width"},"y":{"field":"study","type":"nominal","axis":null},"text":{"field":"cN","type":"nominal"}}}]},
{"width":39,"height":{"step":11.25},"layer":[
{"data":{"name":"one"},"mark":{"type":"text","align":"right","style":["fd","bold"]},"encoding":{"x":{"value":"width"},"y":{"datum":"head","type":"nominal","axis":null,"scale":{"type":"point","padding":0.7,"domain":["top","head","Han 2019","Jafarnejad 2017","Larmbert 2017","Morato-Martínez 2015","Vanichanont 2023","gap","Total (95% CI)","het","z"]}},"text":{"value":"Weight"}}},
{"data":{"name":"one"},"mark":{"type":"rule","yOffset":4,"style":"hl"},"encoding":{"y":{"datum":"head","type":"nominal","axis":null}}},
{"data":{"name":"d_st"},"mark":{"type":"text","align":"right","style":"fd"},"encoding":{"x":{"value":"width"},"y":{"field":"study","type":"nominal","axis":null},"text":{"field":"w","type":"quantitative","format":".1%"}}},
{"data":{"name":"d_tot"},"mark":{"type":"text","align":"right","dy":2,"style":["fd","bold"]},"encoding":{"x":{"value":"width"},"y":{"field":"study","type":"nominal","axis":null},"text":{"field":"w","type":"quantitative","format":".1%"}}}]},
{"width":101.7,"height":{"step":11.25},"layer":[
{"data":{"name":"one"},"mark":{"type":"text","align":"center","dx":-54.7,"style":["fd","bold"]},"encoding":{"x":{"value":"width"},"y":{"datum":"top","type":"nominal","axis":null,"scale":{"type":"point","padding":0.7,"domain":["top","head","Han 2019","Jafarnejad 2017","Larmbert 2017","Morato-Martínez 2015","Vanichanont 2023","gap","Total (95% CI)","het","z"]}},"text":{"value":"Std. Mean Difference"}}},
{"data":{"name":"one"},"mark":{"type":"text","align":"center","dx":-46.9,"style":["fd","bold"]},"encoding":{"x":{"value":"width"},"y":{"datum":"head","type":"nominal","axis":null},"text":{"value":"IV, Random, 95% CI"}}},
{"data":{"name":"one"},"mark":{"type":"rule","yOffset":4,"style":"hl"},"encoding":{"y":{"datum":"head","type":"nominal","axis":null}}},
{"data":{"name":"d_st"},"mark":{"type":"text","align":"right","dx":-11.7,"style":"fd"},"encoding":{"x":{"value":"width"},"y":{"field":"study","type":"nominal","axis":null},"text":{"field":"ci","type":"nominal"}}},
{"data":{"name":"d_tot"},"mark":{"type":"text","align":"right","dx":-11.7,"dy":2,"style":["fd","bold"]},"encoding":{"x":{"value":"width"},"y":{"field":"study","type":"nominal","axis":null},"text":{"field":"ci","type":"nominal"}}}]},
{"width":211.6,"height":{"step":11.25},"layer":[
{"data":{"name":"one"},"mark":{"type":"text","style":["fd","bold"]},"encoding":{"y":{"datum":"top","type":"nominal","axis":null,"scale":{"type":"point","padding":0.7,"domain":["top","head","Han 2019","Jafarnejad 2017","Larmbert 2017","Morato-Martínez 2015","Vanichanont 2023","gap","Total (95% CI)","het","z"]}},"text":{"value":"Std. Mean Difference"}}},
{"data":{"name":"one"},"mark":{"type":"text","style":["fd","bold"]},"encoding":{"y":{"datum":"head","type":"nominal","axis":null},"text":{"value":"IV, Random, 95% CI"}}},
{"data":{"name":"one"},"mark":{"type":"rule","yOffset":4,"style":"hl"},"encoding":{"y":{"datum":"head","type":"nominal","axis":null}}},
{"data":{"name":"one"},"mark":{"type":"rule","yOffset":4,"y2Offset":12.3,"color":"#555"},"encoding":{"x":{"datum":0,"type":"quantitative","scale":{"domain":[-1.95,1.95],"nice":false,"zero":false},"axis":{"values":[-1,-0.5,0,0.5,1],"offset":-18.05,"titleX":99.7,"labelFontSize":8.8,"titleFontSize":8.8,"tickSize":3,"labelPadding":1,"titlePadding":4,"title":"Favours [probiotics]\u00a0\u00a0\u00a0Favours [control]"}},"y":{"datum":"head","type":"nominal","axis":null},"y2":{"datum":"Total (95% CI)"}}},
{"data":{"name":"d_st"},"mark":{"type":"rule","color":"#555"},"encoding":{"x":{"field":"lo","type":"quantitative"},"x2":{"field":"hi"},"y":{"field":"study","type":"nominal","axis":null}}},
{"data":{"name":"d_st"},"mark":{"type":"point","shape":"square","filled":true,"opacity":1,"color":"#1bbf1b"},"encoding":{"x":{"field":"est","type":"quantitative"},"y":{"field":"study","type":"nominal","axis":null},"size":{"field":"w","type":"quantitative","scale":{"domain":[0,1],"range":[0,80]},"legend":null}}},
{"data":{"name":"d_tot"},"transform":[{"fold":["lo","est","hi"],"as":["bound","v"]}],"mark":{"type":"trail","color":"#000","yOffset":2},"encoding":{"x":{"field":"v","type":"quantitative"},"y":{"field":"study","type":"nominal","axis":null},"order":{"field":"v","type":"quantitative"},"size":{"condition":{"test":"datum.bound == 'est'","value":11},"value":0}}}]}
],"spacing":0,"bounds":"flush","resolve":{"scale":{"size":"independent"}}}
],
"config":{
"font":"Liberation Sans",
"view":{"stroke":null},
"text":{"font":"Liberation Sans","color":"#1a1a1a","baseline":"middle"},
"style":{
"fa":{"fontSize":9.7},
"fb":{"fontSize":9.5},
"fc":{"fontSize":8.8},
"fd":{"fontSize":8.8},
"bold":{"fontWeight":"bold"},
"hl":{"color":"#444","strokeWidth":1},
"letter":{"font":"Liberation Serif","fontSize":20,"fontWeight":"bold","color":"#111","baseline":"alphabetic"}
},
"axis":{"grid":false,"domainColor":"#444","tickColor":"#444","labelColor":"#1a1a1a","titleColor":"#1a1a1a","titleFontWeight":"normal","tickSize":4,"labelPadding":2,"titlePadding":3,"labelFlush":false,"labelOverlap":false,"format":"~g","labelExpr":"replace(datum.label, '−', '-')"}
}
}
